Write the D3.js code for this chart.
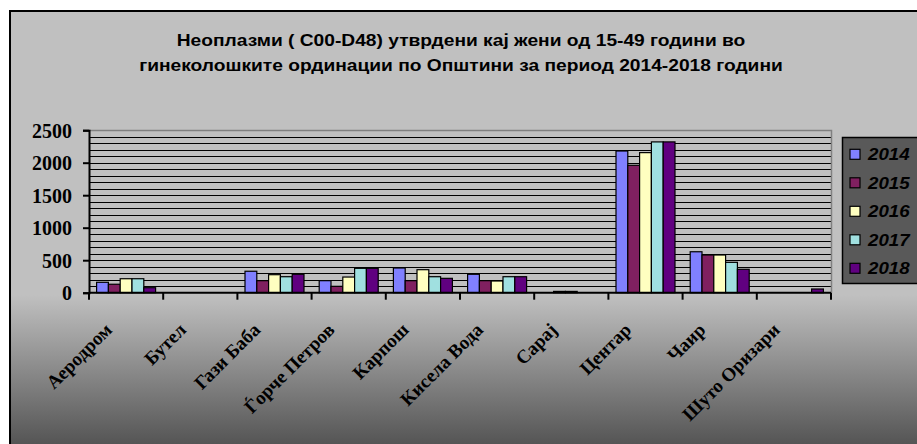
<!DOCTYPE html>
<html>
<head>
<meta charset="utf-8">
<script src="https://cdn.jsdelivr.net/npm/d3@7"></script>
<style>
  html, body { margin: 0; padding: 0; background: #ffffff; }
  svg { display: block; }
</style>
</head>
<body>
<svg id="chart" width="917" height="444"></svg>
<script>
// ---- data ----
const categories = ["Аеродром", "Бутел", "Гази Баба", "Ѓорче Петров", "Карпош", "Кисела Вода", "Сарај", "Центар", "Чаир", "Шуто Оризари"];
const years = ["2014", "2015", "2016", "2017", "2018"];
const values2014 = [160, 0, 330, 185, 380, 283, 0, 2180, 630, 0];
const values2015 = [130, 0, 185, 98, 185, 185, 20, 1960, 580, 0];
const values2016 = [215, 0, 277, 241, 354, 180, 20, 2155, 580, 0];
const values2017 = [215, 0, 246, 375, 246, 246, 0, 2320, 467, 0];
const values2018 = [77, 0, 283, 375, 221, 246, 0, 2320, 360, 57];
const yTicks = [0, 500, 1000, 1500, 2000, 2500];
const titleLines = ["Неоплазми ( C00-D48) утврдени кај жени од 15-49 години во",
                    "гинеколошките ординации по Општини за период 2014-2018 години"];
const seriesColors = ["#8080ff", "#802060", "#ffffc0", "#a0e0e0", "#600080"];

const series = [values2014, values2015, values2016, values2017, values2018];

const svg = d3.select("#chart");
const W = 917, H = 444;
const stretch = 1.2;

// background gradient
const defs = svg.append("defs");
const grad = defs.append("linearGradient").attr("id", "bg")
  .attr("gradientUnits", "userSpaceOnUse")
  .attr("x1", 0).attr("y1", 10).attr("x2", 0).attr("y2", 444);
grad.append("stop").attr("offset", 0).attr("stop-color", "#c0c0c0");
grad.append("stop").attr("offset", (295 - 10) / 434).attr("stop-color", "#c0c0c0");
grad.append("stop").attr("offset", 1).attr("stop-color", "#555555");

svg.append("rect").attr("x", 0).attr("y", 0).attr("width", W).attr("height", H).attr("fill", "#ffffff");
svg.append("rect").attr("x", 10).attr("y", 11).attr("width", W + 20).attr("height", H + 20)
  .attr("fill", "url(#bg)").attr("stroke", "#000").attr("stroke-width", 2);

// title (horizontally stretched like the source)
const title = svg.append("g").attr("transform", `translate(461,0) scale(${stretch},1)`)
  .append("text").attr("text-anchor", "middle")
  .attr("font-family", "Liberation Sans, Arial, sans-serif")
  .attr("font-weight", "bold").attr("font-size", 16).attr("fill", "#000");
titleLines.forEach((t, i) => {
  title.append("tspan").attr("x", 0).attr("y", 46.5 + i * 25).text(t);
});

// scales
const plotL = 89, plotR = 831, plotTop = 130.2, plotBottom = 292.7;
const x0 = d3.scaleBand().domain(categories).range([plotL, plotR]).padding(0);
const gap = 7.6;
const x1 = d3.scaleBand().domain(years).range([gap, x0.bandwidth() - gap]).padding(0);
const y = d3.scaleLinear().domain([0, 2500]).range([plotBottom, plotTop]);

// plot area
svg.append("rect").attr("x", plotL).attr("y", plotTop).attr("width", plotR - plotL).attr("height", plotBottom - plotTop)
  .attr("fill", "#c0c0c0");

// gridlines every 100
const gridVals = d3.range(100, 2500, 100);
svg.append("g").selectAll("line").data(gridVals).join("line")
  .attr("x1", plotL).attr("x2", plotR)
  .attr("y1", d => Math.round(y(d)) + 0.5).attr("y2", d => Math.round(y(d)) + 0.5)
  .attr("stroke", "#000").attr("stroke-width", 1);
// top & right border (grey)
svg.append("path")
  .attr("d", `M${plotL},${Math.round(plotTop) + 0.5}H${plotR + 0.5}V${plotBottom}`)
  .attr("fill", "none").attr("stroke", "#808080").attr("stroke-width", 1.5);

// bars
const groups = svg.append("g").selectAll("g").data(categories).join("g")
  .attr("transform", d => `translate(${x0(d)},0)`);
groups.selectAll("rect")
  .data((c, ci) => years.map((yr, si) => ({ yr, si, v: series[si][ci] })).filter(d => d.v > 0))
  .join("rect")
  .attr("x", d => x1(d.yr))
  .attr("y", d => y(d.v))
  .attr("width", x1.bandwidth())
  .attr("height", d => plotBottom - y(d.v))
  .attr("fill", d => seriesColors[d.si])
  .attr("stroke", "#000").attr("stroke-width", 1.2);

// y axis
const yAxis = d3.axisLeft(y).tickValues(yTicks).tickSize(6).tickPadding(10).tickFormat(d3.format("d"));
const gy = svg.append("g").attr("transform", `translate(${plotL},0)`).call(yAxis);
gy.select(".domain").attr("stroke", "#000").attr("stroke-width", 2);
gy.selectAll(".tick line").attr("stroke", "#000").attr("stroke-width", 2);
gy.selectAll(".tick text")
  .attr("font-family", "Liberation Serif, Times New Roman, serif")
  .attr("font-weight", "bold").attr("font-size", 20).attr("fill", "#000")
  .attr("x", -17)
  .attr("dy", "0.35em");

// x axis line and ticks at category boundaries
const boundaries = categories.map(c => x0(c)).concat([plotR]);
svg.append("line").attr("x1", plotL).attr("x2", plotR).attr("y1", plotBottom).attr("y2", plotBottom)
  .attr("stroke", "#000").attr("stroke-width", 2);
svg.append("g").selectAll("line").data(boundaries).join("line")
  .attr("x1", d => d).attr("x2", d => d)
  .attr("y1", plotBottom).attr("y2", plotBottom + 7)
  .attr("stroke", "#000").attr("stroke-width", 2);

// x labels (rotated)
svg.append("g").selectAll("text").data(categories).join("text")
  .attr("transform", d => `translate(${x0(d) + x0.bandwidth() / 2 - 13},${331}) rotate(-45)`)
  .attr("text-anchor", "end")
  .attr("font-family", "Liberation Serif, Times New Roman, serif")
  .attr("font-weight", "bold").attr("font-size", 19).attr("fill", "#000")
  .text(d => d);

// legend
const lg = svg.append("g");
lg.append("rect").attr("x", 842.5).attr("y", 137.5).attr("width", 90).attr("height", 146)
  .attr("fill", "#595959").attr("stroke", "#000").attr("stroke-width", 1.5);
const items = lg.selectAll("g.item").data(years).join("g").attr("class", "item")
  .attr("transform", (d, i) => `translate(0,${154.3 + i * 28.5})`);
items.append("rect").attr("x", 850).attr("y", -5).attr("width", 10).attr("height", 10)
  .attr("fill", (d, i) => seriesColors[i]).attr("stroke", "#000").attr("stroke-width", 1.2);
items.append("text").attr("transform", "translate(868,6) scale(1.1,1)")
  .attr("font-family", "Liberation Sans, Arial, sans-serif")
  .attr("font-weight", "bold").attr("font-style", "italic").attr("font-size", 17).attr("fill", "#000")
  .text(d => d);
</script>
</body>
</html>
